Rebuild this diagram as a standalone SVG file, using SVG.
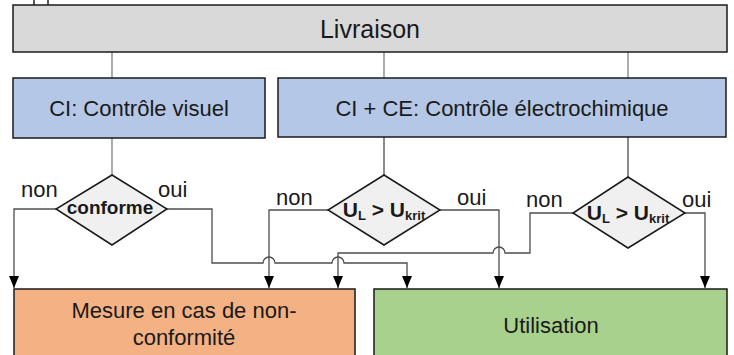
<svg xmlns="http://www.w3.org/2000/svg" width="734" height="355" viewBox="0 0 734 355">
<defs>
<style>
.box{stroke:#1a1a1a;stroke-width:1.5}
.dia{fill:#f0f0f0;stroke:#1a1a1a;stroke-width:1.5}
.t{font-family:"Liberation Sans",Arial,sans-serif;font-size:22px;fill:#1a1a1a;text-anchor:middle}
.lbl{font-family:"Liberation Sans",Arial,sans-serif;font-size:22px;fill:#1a1a1a}
.dt{font-family:"Liberation Sans",Arial,sans-serif;font-weight:bold;fill:#1a1a1a;text-anchor:middle}
.top{fill:none;stroke:#808080;stroke-width:1.3}
.con{fill:none;stroke:#4d4d4d;stroke-width:1.3}
</style>
<marker id="arr" viewBox="0 0 12 10" markerWidth="12" markerHeight="10" refX="12" refY="5" orient="auto" markerUnits="userSpaceOnUse">
<path d="M0,0 L12,5 L0,10 z" fill="#000"/>
</marker>
</defs>
<g id="top-stub">
<line x1="34" y1="0" x2="34" y2="5" stroke="#000" stroke-width="1.3"/>
<line x1="48" y1="0" x2="48" y2="5" stroke="#000" stroke-width="1.3"/>
</g>
<g id="connectors">
<path class="top" d="M112,52 V78"/>
<path class="top" d="M384,52 V78"/>
<path class="top" d="M628,52 V78"/>
<path class="top" d="M112,138 V175"/>
<path class="con" d="M384,137 V175"/>
<path class="con" d="M628,137 V177"/>
<path class="con" d="M56,209 H14 V288" marker-end="url(#arr)"/>
<path class="con" d="M167,209 H212 V263 H263 A6,6 0 0 1 275,263 H332 A6,6 0 0 1 344,263 H407 V288" marker-end="url(#arr)"/>
<path class="con" d="M328,210 H269 V288" marker-end="url(#arr)"/>
<path class="con" d="M440,210 H499 V288" marker-end="url(#arr)"/>
<path class="con" d="M573,213 H530 V253 H505 A6,6 0 0 0 493,253 H338 V288" marker-end="url(#arr)"/>
<path class="con" d="M685,213 H705 V288" marker-end="url(#arr)"/>
</g>
<g id="livraison">
<rect class="box" x="13" y="5" width="714" height="47" fill="#d9d9d9"/>
<text class="t" x="370" y="38" font-size="25" style="font-size:25px">Livraison</text>
</g>
<g id="ci">
<rect class="box" x="13" y="78" width="252" height="60" fill="#b4c7e7"/>
<text class="t" x="139" y="116">CI: Contrôle visuel</text>
</g>
<g id="ce">
<rect class="box" x="278" y="78" width="448" height="59" fill="#b4c7e7"/>
<text class="t" x="502" y="116">CI + CE: Contrôle électrochimique</text>
</g>
<g id="d1">
<polygon class="dia" points="112,175 167,209 112,245 56,209"/>
<text class="dt" x="110" y="214" font-size="19">conforme</text>
<text class="lbl" x="21" y="197">non</text>
<text class="lbl" x="158" y="197">oui</text>
</g>
<g id="d2">
<polygon class="dia" points="384,175 440,210 384,245 328,210"/>
<text class="dt" x="384" y="217" font-size="21">U<tspan font-size="13" dy="3">L</tspan><tspan dy="-3"> &gt; U</tspan><tspan font-size="13" dy="3">krit</tspan></text>
<text class="lbl" x="276" y="205">non</text>
<text class="lbl" x="457" y="205">oui</text>
</g>
<g id="d3">
<polygon class="dia" points="628,177 685,213 628,248 573,213"/>
<text class="dt" x="628" y="220" font-size="21">U<tspan font-size="13" dy="3">L</tspan><tspan dy="-3"> &gt; U</tspan><tspan font-size="13" dy="3">krit</tspan></text>
<text class="lbl" x="526" y="207">non</text>
<text class="lbl" x="682" y="207">oui</text>
</g>
<g id="mesure">
<rect class="box" x="14" y="289" width="341" height="80" fill="#f4b183"/>
<text class="t" x="184" y="318">Mesure en cas de non-</text>
<text class="t" x="184" y="345">conformité</text>
</g>
<g id="utilisation">
<rect class="box" x="374" y="289" width="353" height="80" fill="#a9d18e"/>
<text class="t" x="551" y="333">Utilisation</text>
</g>
</svg>
